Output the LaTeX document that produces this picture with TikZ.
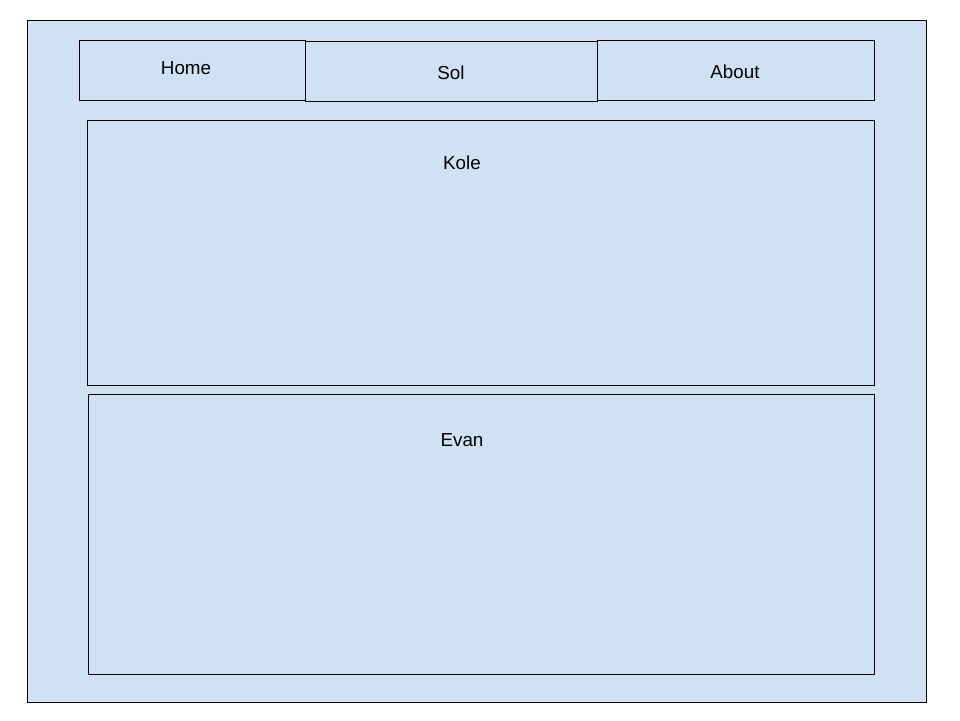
\documentclass[tikz,border=0pt]{standalone}
\usepackage{fontspec}
\setmainfont{Liberation Sans}
\definecolor{pane}{HTML}{CFE2F3}
\begin{document}
\begin{tikzpicture}[x=1pt,y=-1pt,
  box/.style={draw=black,fill=pane,line width=1pt},
  lbl/.style={font=\fontsize{18.8}{22}\selectfont,text=black,inner sep=0pt}]
\useasboundingbox (0,0) rectangle (960,720);
\draw[box] (27,20) rectangle (926,702);
\draw[box] (79.5,40.5) rectangle (305.5,100.5);
\draw[box] (597,40.5) rectangle (874.5,100.5);
\draw[box] (305.5,41.5) rectangle (597.5,101.5);
\draw[line width=1.5pt] (305.5,41.5) -- (597.5,41.5);
\draw[box] (87.5,120.5) rectangle (874.5,385.5);
\draw[box] (88.5,394.5) rectangle (874.5,674.5);
\node[lbl] (home) at (186,68) {Home};
\node[lbl] (sol) at (451,73) {Sol};
\node[lbl] (about) at (735,72) {About};
\node[lbl] (kole) at (462,163) {Kole};
\node[lbl] (evan) at (462,440) {Evan};
\end{tikzpicture}
\end{document}
